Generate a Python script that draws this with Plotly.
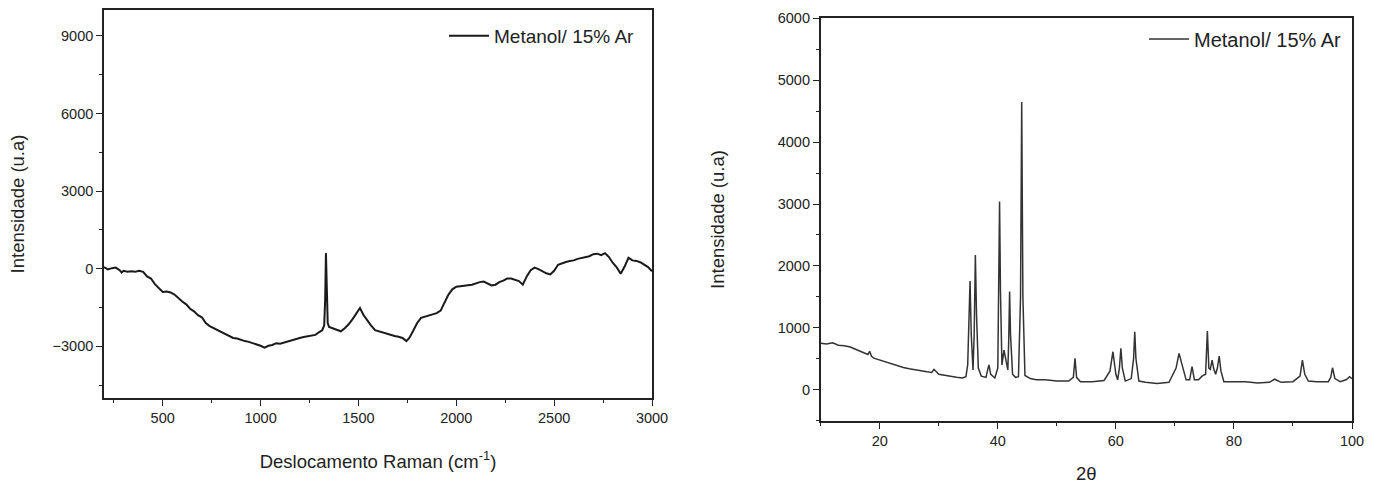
import plotly.graph_objects as go

# ---------------- data: Raman (left) ----------------
raman_shift = [200, 220, 240, 260, 280, 290, 300, 320, 340, 360, 380, 400, 420, 440, 460, 480,
               500, 520, 540, 560, 580, 600, 620, 640, 660, 680, 700, 720, 740, 760, 780,
               800, 820, 840, 860, 880, 900, 920, 940, 960, 980, 1000, 1020, 1040, 1060,
               1080, 1100, 1120, 1140, 1160, 1180, 1200, 1220, 1240, 1260, 1280, 1300,
               1315, 1325, 1330, 1334, 1338, 1343, 1350, 1370, 1390, 1410, 1430, 1450,
               1470, 1490, 1508, 1525, 1545, 1565, 1585, 1605, 1625, 1645, 1665, 1685,
               1705, 1725, 1745, 1760, 1780, 1800, 1820, 1840, 1860, 1880, 1900, 1920,
               1940, 1960, 1980, 2000, 2020, 2040, 2060, 2080, 2100, 2120, 2140, 2160,
               2180, 2200, 2220, 2240, 2260, 2280, 2300, 2320, 2340, 2360, 2380, 2400,
               2420, 2440, 2460, 2480, 2500, 2520, 2540, 2560, 2580, 2600, 2620, 2640,
               2660, 2680, 2700, 2720, 2740, 2760, 2780, 2800, 2820, 2840, 2860, 2880,
               2900, 2920, 2940, 2960, 2980, 3000]
raman_int = [60, -30, 20, 40, -60, -150, -80, -120, -100, -120, -80, -120, -300, -380, -600, -760,
             -900, -880, -920, -1000, -1150, -1270, -1380, -1550, -1650, -1800, -1880, -2100, -2220, -2300, -2380,
             -2450, -2550, -2620, -2680, -2700, -2760, -2800, -2830, -2880, -2900, -2980, -3050, -2980, -2950,
             -2880, -2900, -2850, -2800, -2760, -2720, -2680, -2640, -2620, -2600, -2560, -2450,
             -2380, -2200, -1200, 600, -1000, -2100, -2250, -2300, -2350, -2420, -2300, -2150,
             -1950, -1700, -1520, -1780, -2000, -2200, -2380, -2430, -2480, -2530, -2550, -2600,
             -2630, -2680, -2800, -2680, -2400, -2100, -1900, -1850, -1800, -1760, -1720, -1620,
             -1300, -1000, -800, -700, -680, -650, -640, -620, -560, -520, -500, -560,
             -650, -620, -520, -460, -380, -380, -420, -480, -620, -300, -60, 40,
             -20, -100, -180, -220, -80, 150, 220, 260, 300, 320, 380, 420,
             460, 480, 560, 580, 520, 600, 450, 220, 50, -200, 80, 420,
             320, 300, 250, 150, 60, -100]

# ---------------- data: XRD (right) ----------------
two_theta = [10, 11, 12, 13, 14, 15, 16, 17, 18, 18.3, 18.6, 19, 20, 21, 22, 23, 24, 25, 26, 27, 28,
             28.8, 29.2, 30, 31, 32, 33, 34, 34.6, 34.9, 35.1, 35.3, 35.5, 35.8, 36.0, 36.2, 36.4,
             36.7, 37.2, 38.0, 38.3, 38.5, 38.8, 39.5, 40.0, 40.15, 40.3, 40.45, 40.7, 41.05, 41.4,
             41.7, 41.85, 42.0, 42.15, 42.5, 43.0, 43.5, 43.85, 44.05, 44.25, 44.6, 45.5, 46.5, 48,
             50, 52, 52.8, 53.08, 53.35, 54, 56, 58, 59.0, 59.5, 60.0, 60.3, 60.6, 60.85, 61.1, 61.6,
             62.6, 63.0, 63.2, 63.4, 63.9, 65, 67, 69, 70.2, 70.7, 71.3, 71.9, 72.5, 72.9, 73.3, 74,
             74.6, 75.2, 75.5, 75.75, 76.0, 76.3, 76.6, 76.9, 77.2, 77.5, 77.8, 78.3, 80, 82, 84, 86,
             86.9, 88, 90, 91.2, 91.6, 92.0, 92.6, 94, 96, 96.4, 96.7, 97.1, 98, 99, 99.6, 100]
xrd_int = [750, 740, 760, 720, 710, 690, 650, 610, 570, 620, 540, 510, 480, 450, 420, 380, 360, 340, 320, 300, 290,
           280, 330, 250, 230, 210, 200, 190, 210, 400, 1100, 1755, 900, 320, 900, 2175, 1200,
           350, 220, 200, 330, 400, 250, 190, 350, 1500, 3040, 1600, 400, 640, 450,
           320, 800, 1585, 900, 250, 200, 210, 1500, 4650, 1500, 230, 180, 160, 160,
           140, 140, 200, 507, 200, 130, 130, 150, 300, 614, 250, 160, 350, 668, 350, 140,
           180, 500, 937, 500, 140, 120, 100, 120, 350, 588, 380, 160, 160, 372, 160, 160,
           220, 250, 948, 350, 330, 480, 330, 250, 350, 545, 300, 130, 130, 130, 110, 120,
           170, 120, 130, 220, 480, 250, 140, 130, 130, 200, 355, 180, 130, 160, 210, 180]

series_name = "Metanol/ 15% Ar"

FONT = "Liberation Sans, Arial, sans-serif"
AX = "#222222"

fig = go.Figure()
fig.add_trace(go.Scatter(x=raman_shift, y=raman_int, mode="lines", name=series_name,
                         line=dict(color="#1a1a1a", width=2.0), xaxis="x", yaxis="y",
                         legend="legend"))
fig.add_trace(go.Scatter(x=two_theta, y=xrd_int, mode="lines", name=series_name,
                         line=dict(color="#333333", width=1.5), xaxis="x2", yaxis="y2",
                         legend="legend2"))

axis_common = dict(showline=True, linecolor=AX, linewidth=1.6, mirror=True,
                   ticks="outside", ticklen=6, tickwidth=1.4, tickcolor=AX,
                   showgrid=False, zeroline=False, automargin=False,
                   tickformat="d",
                   tickfont=dict(family=FONT, size=14.5, color=AX),
                   title_font=dict(family=FONT, size=18.5, color=AX))

fig.update_layout(
    width=1384, height=484,
    margin=dict(l=0, r=0, t=0, b=0, autoexpand=False),
    paper_bgcolor="white", plot_bgcolor="white",
    xaxis=dict(domain=[104 / 1384, 652 / 1384], anchor="y", range=[200, 3000],
               dtick=500, tick0=0, minor=dict(dtick=250, ticks="outside", ticklen=3, tickcolor=AX),
               title=dict(text="Deslocamento Raman (cm<sup>-1</sup>)", standoff=30),
               **axis_common),
    yaxis=dict(domain=[1 - 398 / 484, 1 - 10 / 484], anchor="x", range=[-5000, 10000],
               dtick=3000, tick0=0, minor=dict(dtick=1500, ticks="outside", ticklen=3, tickcolor=AX),
               title=dict(text="Intensidade (u.a)", standoff=23),
               **axis_common),
    xaxis2=dict(domain=[820.7 / 1384, 1352 / 1384], anchor="y2", range=[10, 100],
                dtick=20, tick0=0, minor=dict(dtick=10, ticks="outside", ticklen=3, tickcolor=AX),
                title=dict(text="2θ", standoff=19),
                **axis_common),
    yaxis2=dict(domain=[1 - 420.7 / 484, 1 - 18.3 / 484], anchor="x2", range=[-500, 6000],
                dtick=1000, tick0=0, minor=dict(dtick=500, ticks="outside", ticklen=3, tickcolor=AX),
                title=dict(text="Intensidade (u.a)", standoff=48),
                **axis_common),
    legend=dict(x=640 / 1384, y=1 - 36 / 484, xanchor="right", yanchor="middle",
                font=dict(family=FONT, size=19, color=AX), bgcolor="rgba(0,0,0,0)",
                itemwidth=40),
    legend2=dict(x=1347 / 1384, y=1 - 39 / 484, xanchor="right", yanchor="middle",
                 font=dict(family=FONT, size=20, color=AX), bgcolor="rgba(0,0,0,0)",
                 itemwidth=40),
    showlegend=True,
)

fig.write_html("out.html", config={"displayModeBar": False},
               post_script="document.body.style.margin='0px';document.body.style.overflow='hidden';")
